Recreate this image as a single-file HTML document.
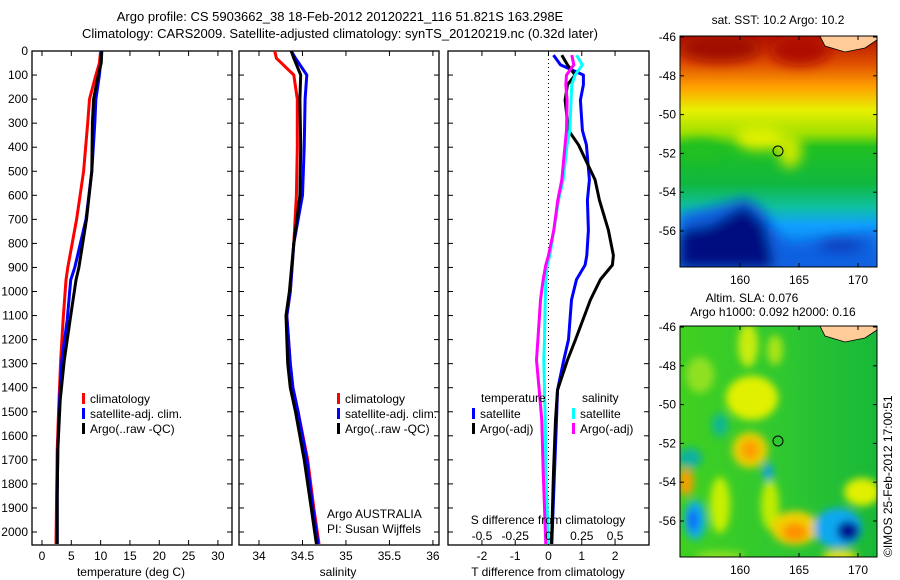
<!DOCTYPE html>
<html><head><meta charset="utf-8"><style>
html,body{margin:0;padding:0;background:#fff;}
svg{display:block;font-family:"Liberation Sans",Arial,sans-serif;}
</style></head><body>
<svg id="fig" width="900" height="580" viewBox="0 0 900 580" xmlns="http://www.w3.org/2000/svg">
<defs>
<linearGradient id="sstGrad" x1="0" y1="0" x2="0" y2="1">
<stop offset="0" stop-color="#b01000"/><stop offset="0.12" stop-color="#e05000"/>
<stop offset="0.22" stop-color="#ffa000"/><stop offset="0.32" stop-color="#e8f000"/>
<stop offset="0.42" stop-color="#a0e000"/><stop offset="0.48" stop-color="#20c020"/>
<stop offset="0.64" stop-color="#10b840"/><stop offset="0.74" stop-color="#10c0a0"/>
<stop offset="0.82" stop-color="#10a0ff"/><stop offset="1" stop-color="#1060e0"/>
</linearGradient>
<linearGradient id="slaGrad" x1="0" y1="0" x2="1" y2="0">
<stop offset="0" stop-color="#40d020"/><stop offset="0.5" stop-color="#30c830"/><stop offset="1" stop-color="#18b838"/>
</linearGradient>
<filter id="blur6"><feGaussianBlur stdDeviation="6"/></filter>
<filter id="blur4"><feGaussianBlur stdDeviation="4"/></filter>
<clipPath id="clipA"><rect x="680" y="36" width="197" height="231"/></clipPath>
<clipPath id="clipB"><rect x="680" y="326" width="197" height="231"/></clipPath>
</defs>
<text x="340" y="21" font-size="13" text-anchor="middle">Argo profile: CS 5903662_38 18-Feb-2012 20120221_116 51.821S 163.298E</text>
<text x="340" y="38" font-size="13" text-anchor="middle">Climatology: CARS2009. Satellite-adjusted climatology: synTS_20120219.nc (0.32d later)</text>
<g id="panels"></g>

<!-- SST map -->
<g>
<g clip-path="url(#clipA)">
<rect x="680" y="36" width="197" height="231" fill="url(#sstGrad)"/>
<g filter="url(#blur6)">
<ellipse cx="720" cy="48" rx="40" ry="14" fill="#a00800"/>
<ellipse cx="800" cy="50" rx="30" ry="15" fill="#b01000"/>
<ellipse cx="760" cy="138" rx="25" ry="12" fill="#e0f000"/>
<ellipse cx="790" cy="150" rx="12" ry="18" fill="#c8e800"/>
<ellipse cx="700" cy="150" rx="20" ry="10" fill="#20c020"/>
<path d="M680 215 L720 205 L745 198 L762 208 L775 230 L790 245 L820 240 L877 232 L877 267 L680 267 Z" fill="#1060e0"/>
<path d="M680 230 L710 225 L745 205 L765 225 L775 267 L680 267 Z" fill="#001080"/>
<ellipse cx="840" cy="245" rx="22" ry="8" fill="#1040c0"/>
</g>
</g>
<path d="M820 36 L877 36 L877 40 L865 48 L845 52 L825 46 Z" fill="#ffcc99" stroke="#000" stroke-width="0.8"/>
<circle cx="778" cy="151" r="5" fill="none" stroke="#000" stroke-width="1"/>
<rect x="680" y="36" width="197" height="231" fill="none" stroke="#000"/>
<text x="778" y="24" font-size="12" text-anchor="middle">sat. SST: 10.2 Argo: 10.2</text>
</g>

<!-- SLA map -->
<g>
<g clip-path="url(#clipB)">
<rect x="680" y="326" width="197" height="231" fill="url(#slaGrad)"/>
<g filter="url(#blur4)">
<ellipse cx="748" cy="345" rx="10" ry="22" fill="#c8ec10"/>
<ellipse cx="775" cy="350" rx="8" ry="15" fill="#a8e418"/>
<ellipse cx="700" cy="375" rx="14" ry="18" fill="#90e020"/>
<ellipse cx="752" cy="398" rx="26" ry="22" fill="#e0f000"/>
<ellipse cx="720" cy="425" rx="8" ry="12" fill="#10b890"/>
<ellipse cx="750" cy="450" rx="18" ry="18" fill="#e8d000"/>
<ellipse cx="750" cy="450" rx="9" ry="10" fill="#ff9c00"/>
<ellipse cx="690" cy="458" rx="12" ry="10" fill="#10b0a0"/>
<ellipse cx="686" cy="482" rx="8" ry="14" fill="#f0a000"/>
<ellipse cx="720" cy="505" rx="10" ry="28" fill="#c8f000"/>
<ellipse cx="770" cy="505" rx="9" ry="25" fill="#c0ec00"/>
<ellipse cx="768" cy="472" rx="5" ry="9" fill="#10a0e0"/>
<ellipse cx="695" cy="520" rx="11" ry="20" fill="#10b0e0"/>
<ellipse cx="693" cy="520" rx="5" ry="11" fill="#1060ff"/>
<ellipse cx="795" cy="528" rx="24" ry="17" fill="#f0d000"/>
<ellipse cx="795" cy="532" rx="13" ry="9" fill="#ff9000"/>
<ellipse cx="838" cy="528" rx="24" ry="20" fill="#10a8f0"/>
<ellipse cx="848" cy="531" rx="11" ry="10" fill="#001090"/>
<ellipse cx="862" cy="492" rx="18" ry="14" fill="#e0f000"/>
<ellipse cx="840" cy="556" rx="18" ry="6" fill="#e8e000"/>
<ellipse cx="720" cy="556" rx="25" ry="5" fill="#90e020"/>
</g>
</g>
<path d="M820 326 L877 326 L877 330 L865 338 L845 342 L825 336 Z" fill="#ffcc99" stroke="#000" stroke-width="0.8"/>
<circle cx="778" cy="441" r="5" fill="none" stroke="#000" stroke-width="1"/>
<rect x="680" y="326" width="197" height="231" fill="none" stroke="#000"/>
<text x="752" y="302" font-size="12" text-anchor="middle">Altim. SLA: 0.076</text>
<text x="773" y="316" font-size="12" text-anchor="middle">Argo h1000: 0.092 h2000: 0.16</text>
<text transform="translate(892,557) rotate(-90)" font-size="12">©IMOS 25-Feb-2012 17:00:51</text>
</g>
<g id="mapaxes"></g>
</svg>
<script>
// ---- data ----
const depthT = [0, 50, 100, 200, 300, 500, 700, 900, 952, 1118, 1285, 1451, 1659, 1850, 2050];
const tClim = [10.0, 9.8, 9.2, 8.1, 7.8, 7.1, 5.9, 4.4, 4.1, 3.6, 3.2, 2.9, 2.6, 2.5, 2.4];
const tSat  = [10.1, 10.0, 9.8, 9.2, 9.0, 8.5, 7.5, 5.6, 4.9, 4.3, 3.4, 3.0, 2.7, 2.6, 2.6];
const tArgo = [10.2, 10.1, 9.6, 8.8, 8.6, 8.5, 7.6, 6.3, 5.8, 4.8, 3.8, 3.1, 2.7, 2.6, 2.6];
const depthS = [0, 30, 100, 200, 400, 600, 800, 1000, 1100, 1300, 1400, 1500, 1700, 1900, 2050];
const sClim = [34.18, 34.2, 34.4, 34.44, 34.44, 34.43, 34.40, 34.36, 34.32, 34.36, 34.39, 34.45, 34.56, 34.63, 34.69];
const sSat  = [34.37, 34.42, 34.55, 34.53, 34.52, 34.5, 34.40, 34.36, 34.32, 34.36, 34.39, 34.45, 34.55, 34.62, 34.68];
const sArgo = [34.37, 34.40, 34.48, 34.47, 34.48, 34.47, 34.40, 34.35, 34.31, 34.33, 34.36, 34.42, 34.52, 34.60, 34.66];
const depthD = [17, 58, 100, 140, 204, 330, 390, 536, 620, 745, 850, 890, 950, 1035, 1200, 1285, 1410, 1535, 1750, 2050];
const dTArgo = [0.4, 0.57, 0.8, 0.57, 0.5, 0.6, 0.9, 1.4, 1.53, 1.8, 1.95, 1.92, 1.56, 1.26, 0.81, 0.57, 0.27, 0.21, 0.15, 0.09];
const dTSat  = [0.15, 0.36, 1.05, 1.05, 0.96, 1.02, 1.14, 1.23, 1.17, 1.2, 1.15, 1.1, 0.84, 0.69, 0.6, 0.46, 0.27, 0.24, 0.18, 0.1];
const dSSat  = [0.21, 0.255, 0.2, 0.175, 0.17, 0.16, 0.14, 0.11, 0.075, 0.04, 0.01, -0.01, -0.02, -0.025, -0.03, -0.035, -0.03, -0.025, -0.02, 0.0];
const dSArgo = [0.175, 0.19, 0.135, 0.13, 0.14, 0.135, 0.125, 0.1, 0.07, 0.04, 0.0, -0.02, -0.04, -0.06, -0.08, -0.09, -0.07, -0.05, -0.04, -0.02];
const depthTicks = [0,100,200,300,400,500,600,700,800,900,1000,1100,1200,1300,1400,1500,1600,1700,1800,1900,2000];

const NS="http://www.w3.org/2000/svg";
const g=document.getElementById('panels');
function el(t,a,p){const e=document.createElementNS(NS,t);for(const k in a)e.setAttribute(k,a[k]);(p||g).appendChild(e);return e;}
const top0=51,bot=545;
const yD=d=>top0+d*0.2405;

function panel(name,x0,x1,xmin,xmax){
  const sx=v=>x0+(v-xmin)/(xmax-xmin)*(x1-x0);
  const grp=el('g',{});
  
  
  el('rect',{x:x0,y:top0,width:x1-x0,height:bot-top0,fill:'#fff',stroke:'#000','stroke-width':1.3},grp);
  depthTicks.forEach(d=>{const y=yD(d);
    el('line',{x1:x0,x2:x0+5,y1:y,y2:y,stroke:'#000'},grp);
    el('line',{x1:x1-5,x2:x1,y1:y,y2:y,stroke:'#000'},grp);});
  return {sx,grp};
}
function series(p,xs,ds,color,name){
  const pts=xs.map((v,i)=>p.sx(v).toFixed(1)+','+yD(ds[i]).toFixed(1)).join(' ');
  const pl=el('polyline',{points:pts,fill:'none',stroke:color,'stroke-width':3,'stroke-linejoin':'round'},p.grp);
  
  
}
function xticks(p,vals,labels,y,cls){
  vals.forEach((v,i)=>{const x=p.sx(v);
    el('line',{x1:x,x2:x,y1:bot-5,y2:bot,stroke:'#000'},p.grp);
    el('line',{x1:x,x2:x,y1:top0,y2:top0+5,stroke:'#000'},p.grp);
    const t=el('text',{x:x,y:y,'font-size':12,'text-anchor':'middle'},p.grp);t.textContent=labels[i];
    
    });
}
function label(txt,x,y,name,anchor){const t=el('text',{x:x,y:y,'font-size':12,'text-anchor':anchor||'start'});t.textContent=txt;
  
  }
function legend(x,y,color,txt,name){el('rect',{x:x,y:y-10,width:3,height:11,fill:color});label(txt,x+8,y,name);}

depthTicks.forEach(d=>{const t=el('text',{x:28,y:yD(d)+4,'font-size':12,'text-anchor':'end'});t.textContent=d;
  
  });

const p1=panel('temperature-panel',32,232,-1.7,32.4);
xticks(p1,[0,5,10,15,20,25,30],['0','5','10','15','20','25','30'],560,'temperature-tick-label');
series(p1,tClim,depthT,'#f00','temp-climatology-line');
series(p1,tSat,depthT,'#00f','temp-satellite-line');
series(p1,tArgo,depthT,'#000','temp-argo-line');
label('temperature (deg C)',131,576,'temperature-axis-title','middle');
legend(82,403,'#f00','climatology','legend-climatology');
legend(82,418,'#00f','satellite-adj. clim.','legend-satellite');
legend(82,433,'#000','Argo(..raw -QC)','legend-argo');

const p2=panel('salinity-panel',239,439,33.77,36.07);
xticks(p2,[34,34.5,35,35.5,36],['34','34.5','35','35.5','36'],560,'salinity-tick-label');
series(p2,sClim,depthS,'#f00','sal-climatology-line');
series(p2,sSat,depthS,'#00f','sal-satellite-line');
series(p2,sArgo,depthS,'#000','sal-argo-line');
label('salinity',338,576,'salinity-axis-title','middle');
legend(337,403,'#f00','climatology','legend2-climatology');
legend(337,418,'#00f','satellite-adj. clim.','legend2-satellite');
legend(337,433,'#000','Argo(..raw -QC)','legend2-argo');
label('Argo AUSTRALIA',327,518,'argo-australia-label');
label('PI: Susan Wijffels',327,533,'pi-label');

const p3=panel('difference-panel',448,649,-3.02,3.02);
el('line',{x1:p3.sx(0),x2:p3.sx(0),y1:top0,y2:bot,stroke:'#000','stroke-dasharray':'1,3'},p3.grp);
xticks(p3,[-2,-1,0,1,2],['-2','-1','0','1','2'],560,'t-diff-tick-label');
series(p3,dTSat,depthD,'#00f','tdiff-satellite-line');
series(p3,dTArgo,depthD,'#000','tdiff-argo-line');
series(p3,dSSat.map(v=>v*4),depthD,'#0ff','sdiff-satellite-line');
series(p3,dSArgo.map(v=>v*4),depthD,'#f0f','sdiff-argo-line');
[-0.5,-0.25,0,0.25,0.5].forEach(v=>{const t=el('text',{x:p3.sx(v*4),y:540,'font-size':12,'text-anchor':'middle'},p3.grp);t.textContent=String(v);
  
  });
label('S difference from climatology',548,524,'s-diff-axis-title','middle');
label('T difference from climatology',548,576,'t-diff-axis-title','middle');
label('temperature',481,402,'legend3-temperature-header');
legend(472,418,'#00f','satellite','legend3-t-satellite');
legend(472,433,'#000','Argo(-adj)','legend3-t-argo');
label('salinity',582,402,'legend3-salinity-header');
legend(572,418,'#0ff','satellite','legend3-s-satellite');
legend(572,433,'#f0f','Argo(-adj)','legend3-s-argo');

const ma=document.getElementById('mapaxes');
const lons=[160,165,170];
const lats=[-46,-48,-50,-52,-54,-56];
[[36,267,'sst'],[326,557,'sla']].forEach(([t,b,n])=>{
  lons.forEach(lo=>{const x=740+(lo-160)*11.8;
    el('line',{x1:x,x2:x,y1:b-4,y2:b,stroke:'#000'},ma);
    el('line',{x1:x,x2:x,y1:t,y2:t+4,stroke:'#000'},ma);
    const tx=el('text',{x:x,y:b+17,'font-size':12,'text-anchor':'middle'},ma);tx.textContent=lo;
    
    });
  lats.forEach(la=>{const y=t+1+(-46-la)*19.4;
    el('line',{x1:680,x2:684,y1:y,y2:y,stroke:'#000'},ma);
    el('line',{x1:873,x2:877,y1:y,y2:y,stroke:'#000'},ma);
    const tx=el('text',{x:676,y:y+4,'font-size':12,'text-anchor':'end'},ma);tx.textContent=la;
    
    });
});
</script>
</body></html>
